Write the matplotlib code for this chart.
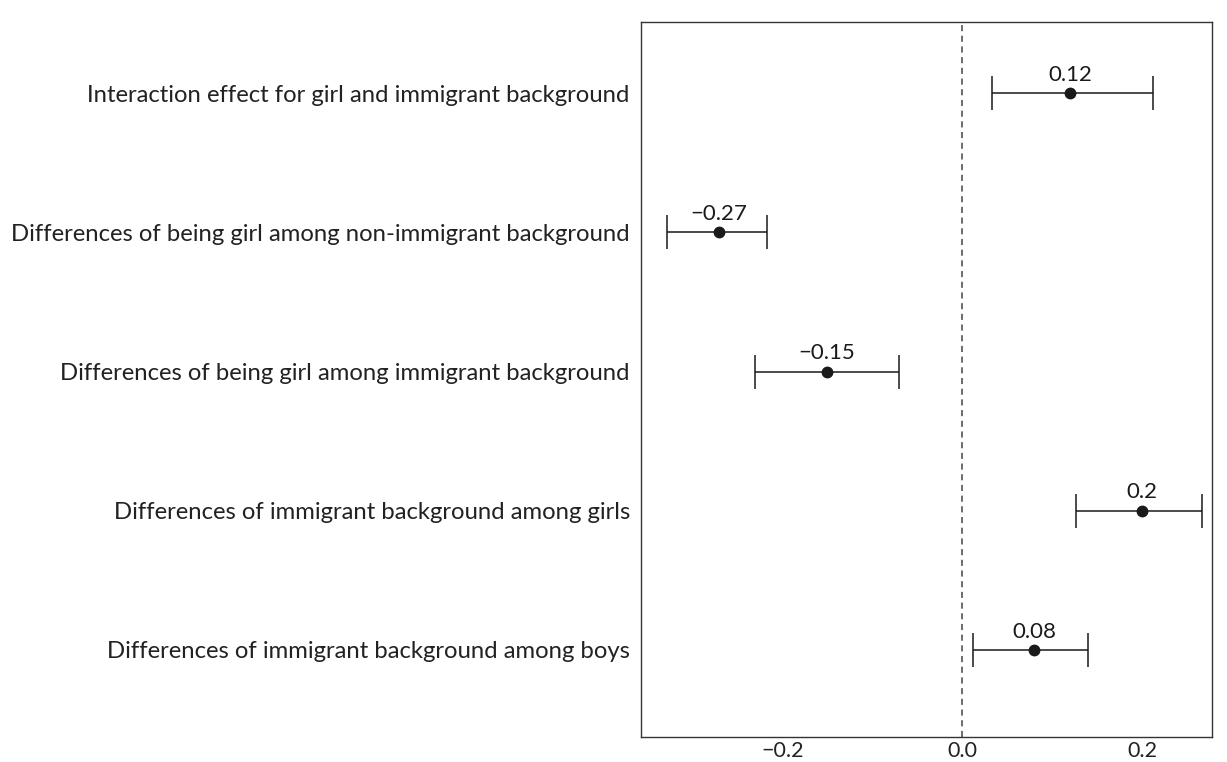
import matplotlib.pyplot as plt
import numpy as np

plt.rcParams['font.family'] = ['Lato', 'DejaVu Sans']

# effect estimates with confidence bounds, bottom row first
terms = ["Differences of immigrant background among boys",
         "Differences of immigrant background among girls",
         "Differences of being girl among immigrant background",
         "Differences of being girl among non-immigrant background",
         "Interaction effect for girl and immigrant background"]
estimate = [0.08, 0.2, -0.15, -0.27, 0.12]
lower = [0.012, 0.127, -0.230, -0.328, 0.033]
upper = [0.140, 0.267, -0.070, -0.217, 0.212]
xticks = [-0.2, 0.0, 0.2]

fig = plt.figure(figsize=(12.27, 7.62), dpi=100)
ax = fig.add_axes([0.5224, 0.0328, 0.4654, 0.9383])

ypos = np.arange(1, len(terms) + 1)
est = np.array(estimate)
xerr = [est - np.array(lower), np.array(upper) - est]

ax.axvline(0, color='#444444', linestyle=(0, (4, 3)), linewidth=1.1, zorder=1)
ax.errorbar(est, ypos, xerr=xerr, fmt='o', color='#1a1a1a', ecolor='#1a1a1a',
            elinewidth=1.1, capsize=12, capthick=1.1, markersize=7.5, zorder=3)

for x, y in zip(estimate, ypos):
    ax.text(x, y + 0.06, "{:g}".format(x).replace('-', '\u2212'), ha='center', va='bottom',
            fontsize=16, color='#1a1a1a')

ax.set_xlim(-0.357, 0.278)
ax.set_ylim(0.375, 5.51)
ax.set_yticks(ypos)
ax.set_yticklabels(terms, fontsize=17.2, color='#222222')
ax.set_xticks(xticks)
ax.set_xticklabels(["\u22120.2", "0.0", "0.2"], fontsize=15.5, color='#222222')
ax.tick_params(axis='both', length=0)
ax.tick_params(axis='y', pad=8)
ax.tick_params(axis='x', pad=3)
for s in ax.spines.values():
    s.set_color('#333333')
    s.set_linewidth(1.0)

fig.savefig('out.png', dpi=100)
